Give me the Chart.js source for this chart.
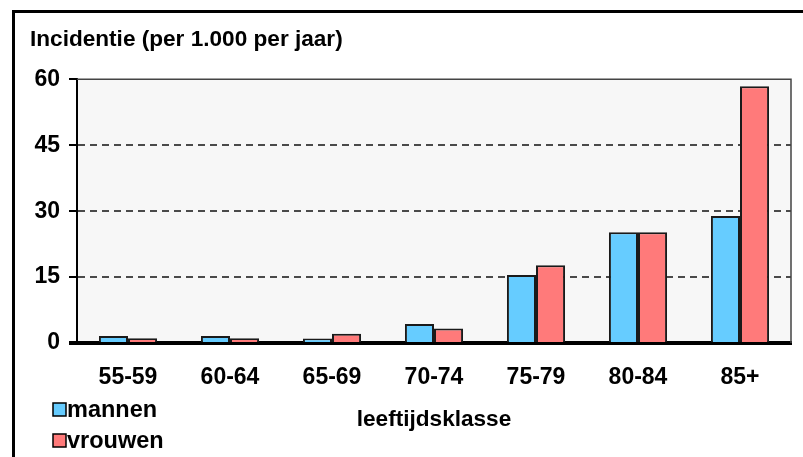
<!DOCTYPE html>
<html>
<head>
<meta charset="utf-8">
<title>Incidentie per leeftijdsklasse</title>
<script src="https://cdn.jsdelivr.net/npm/chart.js@4/dist/chart.umd.min.js"></script>
<style>
  html, body { margin: 0; padding: 0; background: #ffffff; }
  #wrap { width: 803px; height: 457px; }
</style>
</head>
<body>
<div id="wrap"><canvas id="chart" width="803" height="457"></canvas></div>
<script>
// Age classes and incidence per 1,000 per year
const ageClasses = ['55-59', '60-64', '65-69', '70-74', '75-79', '80-84', '85+'];
const mannen  = [1.6, 1.6, 1.0, 4.3, 15.5, 25.2, 28.9];
const vrouwen = [1.1, 1.1, 2.1, 3.3, 17.7, 25.2, 58.4];
const yTicks  = [0, 15, 30, 45, 60];

const FONT = "'Liberation Sans', Arial, sans-serif";

// Light grey plot panel with a thin frame on top and right, plus the outer page frame
const panelPlugin = {
  id: 'panel',
  beforeDraw(chart) {
    const { ctx, chartArea: a } = chart;
    ctx.save();
    ctx.fillStyle = '#f7f7f7';
    ctx.fillRect(a.left, a.top, a.right - a.left, a.bottom - a.top);
    ctx.strokeStyle = '#000';
    ctx.lineWidth = 3;
    ctx.beginPath();
    ctx.moveTo(13.5, chart.height);
    ctx.lineTo(13.5, 11.5);
    ctx.lineTo(chart.width, 11.5);
    ctx.stroke();
    ctx.restore();
  },
  afterDatasetsDraw(chart) {
    const { ctx, chartArea: a } = chart;
    ctx.save();
    ctx.strokeStyle = '#444';
    ctx.lineWidth = 1.5;
    ctx.beginPath();
    ctx.moveTo(a.left, a.top);
    ctx.lineTo(a.right, a.top);
    ctx.lineTo(a.right, a.bottom);
    ctx.stroke();
    ctx.restore();
  }
};

// Stacked legend in the lower-left corner
const legendPlugin = {
  id: 'stackLegend',
  afterDraw(chart) {
    const { ctx } = chart;
    ctx.save();
    ctx.font = 'bold 23.5px ' + FONT;
    ctx.textBaseline = 'middle';
    ctx.textAlign = 'left';
    chart.data.datasets.forEach((ds, i) => {
      const cy = 410 + i * 31;
      ctx.fillStyle = ds.backgroundColor;
      ctx.fillRect(53, cy - 7, 13, 13);
      ctx.strokeStyle = '#000';
      ctx.lineWidth = 1.5;
      ctx.strokeRect(53, cy - 7, 13, 13);
      ctx.fillStyle = '#000';
      ctx.fillText(ds.label, 67, cy + 1);
    });
    ctx.restore();
  }
};

new Chart(document.getElementById('chart'), {
  type: 'bar',
  data: {
    labels: ageClasses,
    datasets: [
      { label: 'mannen', data: mannen, backgroundColor: '#66ccff',
        borderColor: '#1a1a1a', borderWidth: 2 },
      { label: 'vrouwen', data: vrouwen, backgroundColor: '#ff7a7a',
        borderColor: '#1a1a1a', borderWidth: 2 }
    ]
  },
  options: {
    responsive: false,
    animation: false,
    devicePixelRatio: 1,
    layout: { padding: { left: 30, right: 12, top: 10, bottom: 0 } },
    datasets: { bar: { categoryPercentage: 0.57, barPercentage: 1.0 } },
    plugins: {
      legend: { display: false },
      tooltip: { enabled: false },
      title: {
        display: true,
        text: 'Incidentie (per 1.000 per jaar)',
        align: 'start',
        color: '#000',
        font: { family: FONT, size: 22.6, weight: 'bold', lineHeight: 1.2 },
        padding: { top: 16, bottom: 26.2 }
      }
    },
    scales: {
      x: {
        grid: { display: false, drawTicks: false },
        border: { display: true, color: '#000', width: 4 },
        ticks: { color: '#000', padding: 21, font: { family: FONT, size: 23, weight: 'bold' } },
        title: {
          display: true,
          text: 'leeftijdsklasse',
          color: '#000',
          font: { family: FONT, size: 22.6, weight: 'bold', lineHeight: 1.2 },
          padding: { top: 0, bottom: 24 }
        },
        afterFit(scale) { scale.height = 114; }
      },
      y: {
        min: 0,
        max: 60,
        afterBuildTicks(scale) { scale.ticks = yTicks.map(v => ({ value: v })); },
        grid: {
          color: (c) => (c.tick && (c.tick.value === 0 || c.tick.value === 60)) ? 'rgba(0,0,0,0)' : '#4a4a4a',
          lineWidth: 2,
          drawTicks: true,
          tickLength: 8,
          tickColor: '#000',
          tickWidth: (c) => (c.tick && c.tick.value === 0) ? 4 : 2
        },
        border: { display: true, color: '#000', width: 2, dash: [7, 5] },
        ticks: { color: '#000', padding: 9, font: { family: FONT, size: 23, weight: 'bold' } },
        afterFit(scale) { scale.width = 47; }
      }
    }
  },
  plugins: [panelPlugin, legendPlugin]
});
</script>
</body>
</html>
